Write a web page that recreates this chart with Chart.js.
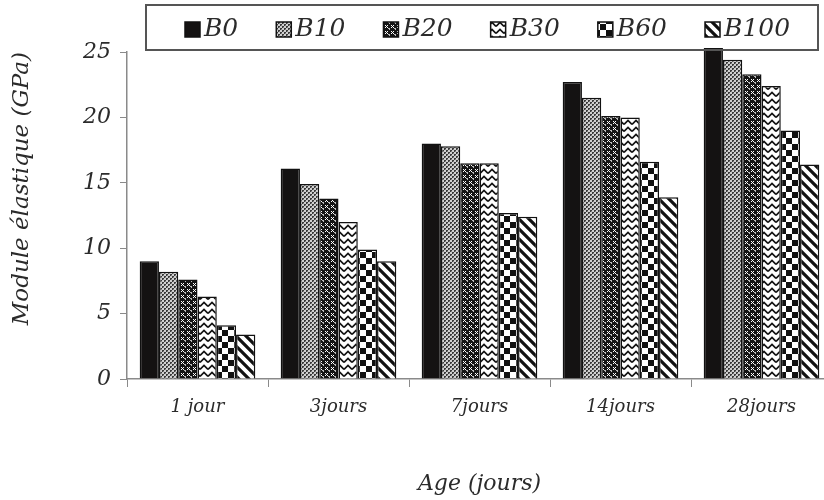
<!DOCTYPE html>
<html>
<head>
<meta charset="utf-8">
<script src="https://cdn.jsdelivr.net/npm/chart.js@4/dist/chart.umd.min.js"></script>
<style>
  html, body { margin: 0; padding: 0; background: #fff; overflow: hidden; }
  #wrap { width: 824px; height: 500px; position: relative; overflow: hidden; }
</style>
</head>
<body>
<div id="wrap"><canvas id="c" width="832" height="500"></canvas></div>
<script>
// ---- data ----
const categories = ['1 jour', '3jours', '7jours', '14jours', '28jours'];
const seriesNames = ['B0', 'B10', 'B20', 'B30', 'B60', 'B100'];
const B0   = [9.0, 16.1, 18.0, 22.7, 25.3];
const B10  = [8.2, 14.9, 17.8, 21.5, 24.4];
const B20  = [7.6, 13.8, 16.5, 20.1, 23.3];
const B30  = [6.3, 12.0, 16.5, 20.0, 22.4];
const B60  = [4.1, 9.9, 12.7, 16.6, 19.0];
const B100 = [3.4, 9.0, 12.4, 13.9, 16.4];
const yTicks = [0, 5, 10, 15, 20, 25];
const yTitle = 'Module élastique (GPa)';
const xTitle = 'Age (jours)';

// ---- patterns ----
function tile(w, h, draw) {
  const c = document.createElement('canvas');
  c.width = w; c.height = h;
  const g = c.getContext('2d');
  draw(g, w, h);
  return document.getElementById('c').getContext('2d').createPattern(c, 'repeat');
}
const patSolid = '#141212';
const patGray = tile(4, 4, (g) => {
  g.fillStyle = '#d0d0d0'; g.fillRect(0, 0, 4, 4);
  g.fillStyle = '#3a3a3a';
  g.fillRect(0, 0, 2, 2); g.fillRect(2, 2, 2, 2);
  g.fillStyle = '#888'; g.fillRect(1, 1, 1, 1); g.fillRect(3, 3, 1, 1);
});
const patDiamond = tile(6, 6, (g) => {
  g.fillStyle = '#151515'; g.fillRect(0, 0, 6, 6);
  g.fillStyle = '#fff';
  g.fillRect(1, 1, 1, 1); g.fillRect(3, 1, 1, 1);
  g.fillRect(2, 2, 1, 1);
  g.fillRect(1, 3, 1, 1); g.fillRect(3, 3, 1, 1);
  g.fillStyle = '#bbb';
  g.fillRect(4, 4, 2, 1); g.fillRect(5, 5, 1, 1);
});
const patZig = tile(8, 7, (g) => {
  g.fillStyle = '#fff'; g.fillRect(0, 0, 8, 7);
  g.strokeStyle = '#111'; g.lineWidth = 1.7;
  g.beginPath();
  g.moveTo(0, 5.5); g.lineTo(4, 1.5); g.lineTo(8, 5.5);
  g.stroke();
});
const patCheck = tile(12, 12, (g) => {
  g.fillStyle = '#fff'; g.fillRect(0, 0, 12, 12);
  g.fillStyle = '#111';
  g.fillRect(0, 0, 6, 6); g.fillRect(6, 6, 6, 6);
});
const patStripe = tile(10, 10, (g) => {
  g.fillStyle = '#fff'; g.fillRect(0, 0, 10, 10);
  g.strokeStyle = '#111'; g.lineWidth = 3.2;
  g.beginPath();
  g.moveTo(-5, -5); g.lineTo(15, 15);
  g.moveTo(-5, 5); g.lineTo(5, 15);
  g.moveTo(5, -5); g.lineTo(15, 5);
  g.stroke();
});
const fills = [patSolid, patGray, patDiamond, patZig, patCheck, patStripe];
const values = [B0, B10, B20, B30, B60, B100];

const FONT = "'DejaVu Serif', 'Liberation Serif', serif";
const TXT = '#2b2b2b';
const AXIS = '#8a8a8a';

// ---- legend with frame ----
const boxedLegend = {
  id: 'boxedLegend',
  afterDraw(chart) {
    const ctx = chart.ctx;
    ctx.save();
    ctx.strokeStyle = '#555';
    ctx.lineWidth = 2;
    ctx.strokeRect(146, 5, 672, 45);
    ctx.font = 'italic 25px ' + FONT;
    ctx.textBaseline = 'middle';
    let x = 185;
    const cy = 29;
    chart.data.datasets.forEach((ds) => {
      ctx.fillStyle = ds.backgroundColor;
      ctx.fillRect(x, cy - 7, 15, 15);
      ctx.strokeStyle = '#111';
      ctx.lineWidth = 1.5;
      ctx.strokeRect(x, cy - 7, 15, 15);
      ctx.fillStyle = TXT;
      ctx.fillText(ds.label, x + 19, cy);
      x += 19 + ctx.measureText(ds.label).width + 38;
    });
    ctx.restore();
  }
};

new Chart(document.getElementById('c'), {
  type: 'bar',
  data: {
    labels: categories,
    datasets: seriesNames.map((n, i) => ({
      label: n,
      data: values[i],
      backgroundColor: fills[i],
      borderColor: '#111',
      borderWidth: 1.5,
      categoryPercentage: 0.82,
      barPercentage: 1.0,
      clip: false
    }))
  },
  options: {
    responsive: false,
    animation: false,
    layout: { padding: { top: 52, right: 0, left: 0, bottom: 0 } },
    plugins: { legend: { display: false }, tooltip: { enabled: false } },
    scales: {
      x: {
        afterFit: (s) => { s.height = 121; },
        grid: { display: true, drawOnChartArea: false, drawTicks: true, tickLength: 8, color: AXIS, offset: true },
        border: { display: true, color: AXIS, width: 1.5 },
        ticks: { color: TXT, font: { family: FONT, size: 18, style: 'italic' }, padding: 10 },
        title: { display: true, text: xTitle, color: TXT, font: { family: FONT, size: 22, style: 'italic' }, padding: { top: 0, bottom: 3 } }
      },
      y: {
        min: 0, max: 25,
        afterFit: (s) => { s.width = 127; },
        afterBuildTicks: (s) => { s.ticks = yTicks.map(v => ({ value: v })); },
        grid: { display: true, drawOnChartArea: false, drawTicks: true, tickLength: 7, color: AXIS },
        border: { display: true, color: AXIS, width: 1.5 },
        ticks: { color: TXT, font: { family: FONT, size: 22, style: 'italic' }, padding: 9 },
        title: { display: true, text: yTitle, align: 'end', color: TXT, font: { family: FONT, size: 23, style: 'italic' }, padding: { top: 8, bottom: 0 } }
      }
    }
  },
  plugins: [boxedLegend]
});
</script>
</body>
</html>
